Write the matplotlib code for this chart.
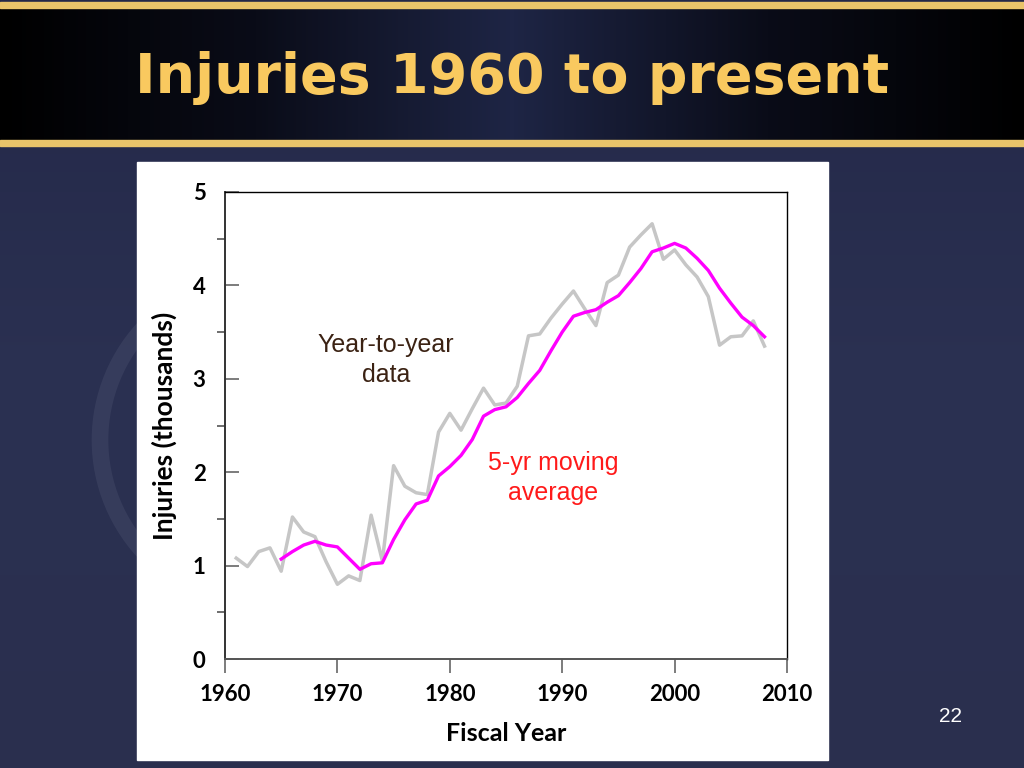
import numpy as np
import matplotlib
matplotlib.use("Agg")
import matplotlib.pyplot as plt
from matplotlib.ticker import MultipleLocator
from matplotlib.patches import Rectangle, Circle

# ---- data ----
years_data = list(range(1961, 2009))
injuries_data = [1.08, 0.99, 1.15, 1.19, 0.94, 1.52, 1.36, 1.31, 1.04, 0.80,
                 0.89, 0.84, 1.54, 1.05, 2.07, 1.85, 1.78, 1.76, 2.43, 2.63,
                 2.45, 2.68, 2.90, 2.72, 2.74, 2.92, 3.46, 3.48, 3.65, 3.80,
                 3.94, 3.75, 3.57, 4.03, 4.11, 4.41, 4.54, 4.66, 4.28, 4.38,
                 4.22, 4.09, 3.88, 3.36, 3.45, 3.46, 3.62, 3.35]
years_avg = list(range(1965, 2009))
injuries_avg = [1.07, 1.15, 1.22, 1.26, 1.22, 1.20, 1.08, 0.96, 1.02, 1.03,
                1.28, 1.49, 1.66, 1.70, 1.96, 2.06, 2.18, 2.35, 2.60, 2.67,
                2.70, 2.80, 2.95, 3.09, 3.30, 3.50, 3.67, 3.71, 3.74, 3.82,
                3.89, 4.03, 4.18, 4.36, 4.40, 4.45, 4.40, 4.29, 4.16, 3.97,
                3.81, 3.66, 3.57, 3.45]
x_ticks = [1960, 1970, 1980, 1990, 2000, 2010]
y_ticks = [0, 1, 2, 3, 4, 5]

title = "Injuries 1960 to present"
page = "22"

fig = plt.figure(figsize=(10.24, 7.68), dpi=100)

# ---- slide background ----
bg = fig.add_axes([0, 0, 1, 1])
bg.set_xlim(0, 1024)
bg.set_ylim(768, 0)
bg.axis("off")
grad = np.linspace(0, 1, 256).reshape(-1, 1)
cmap_bg = matplotlib.colors.LinearSegmentedColormap.from_list("bg", ["#232848", "#2b3152", "#2a2f4e"])
bg.imshow(grad, extent=[0, 1024, 768, 0], cmap=cmap_bg, aspect="auto", zorder=0)
# faint ring decoration
bg.add_patch(Circle((265, 440), 165, fill=False, lw=12, ec="#464c6a", alpha=0.45, zorder=1))
# banner
hgrad = np.abs(np.linspace(-1, 1, 512)).reshape(1, -1)
cmap_ban = matplotlib.colors.LinearSegmentedColormap.from_list("ban", ["#1e2545", "#0a0c18", "#000000"])
bg.imshow(hgrad, extent=[0, 1024, 142, 8], cmap=cmap_ban, aspect="auto", zorder=2)
bg.add_patch(Rectangle((0, 2), 1024, 6, color="#e9c46a", zorder=3))
bg.add_patch(Rectangle((0, 140), 1024, 6, color="#e9c46a", zorder=3))
bg.text(512, 78, title, ha="center", va="center", fontsize=40, fontweight="bold",
        color="#f9c95f", family="DejaVu Sans", zorder=4)
bg.text(951, 717, page, ha="center", va="center", fontsize=15, color="white",
        family="Liberation Sans", zorder=4)
# white chart panel
bg.add_patch(Rectangle((137, 162), 691, 598, color="white", zorder=5))

# ---- chart ----
ax = fig.add_axes([225 / 1024, 1 - 659 / 768, 562 / 1024, 467 / 768])
ax.set_facecolor("white")
ax.plot(years_data, injuries_data, color="#c6c6c6", lw=2.5, zorder=2)
ax.plot(years_avg, injuries_avg, color="#ff00ff", lw=2.4, zorder=3)
ax.set_xlim(1960, 2010)
ax.set_ylim(0, 5)
ax.set_xticks(x_ticks)
ax.set_yticks(y_ticks)
ax.yaxis.set_minor_locator(MultipleLocator(0.5))
ax.tick_params(axis="y", which="major", direction="in", length=10, width=1.2,
               color="#666666", pad=14, labelsize=16)
ax.tick_params(axis="y", which="minor", direction="out", length=6, width=1.2,
               color="#555555")
ax.tick_params(axis="x", which="major", direction="out", length=10, width=1.2,
               color="#666666", pad=8, labelsize=16)
for lbl in ax.get_xticklabels() + ax.get_yticklabels():
    lbl.set_fontweight("bold")
    lbl.set_family("Lato")
for s in ["top", "right"]:
    ax.spines[s].set_color("black")
    ax.spines[s].set_linewidth(1.0)
ax.spines["left"].set_color("#333333")
ax.spines["left"].set_linewidth(1.4)
ax.spines["bottom"].set_color("#555555")
ax.spines["bottom"].set_linewidth(1.4)
ax.set_ylabel("Injuries (thousands)", fontsize=19, fontweight="bold", family="Lato", labelpad=11)
ax.set_xlabel("Fiscal Year", fontsize=18, fontweight="bold", family="Lato", labelpad=12)

ax.text(1974.3, 3.2, "Year-to-year\ndata", ha="center", va="center", fontsize=18,
        color="#3b2213", family="Liberation Sans", linespacing=1.3)
ax.text(1989.2, 1.94, "5-yr moving\naverage", ha="center", va="center", fontsize=18,
        color="#ff1a1a", family="Liberation Sans", linespacing=1.3)

fig.savefig("out.png", dpi=100)
